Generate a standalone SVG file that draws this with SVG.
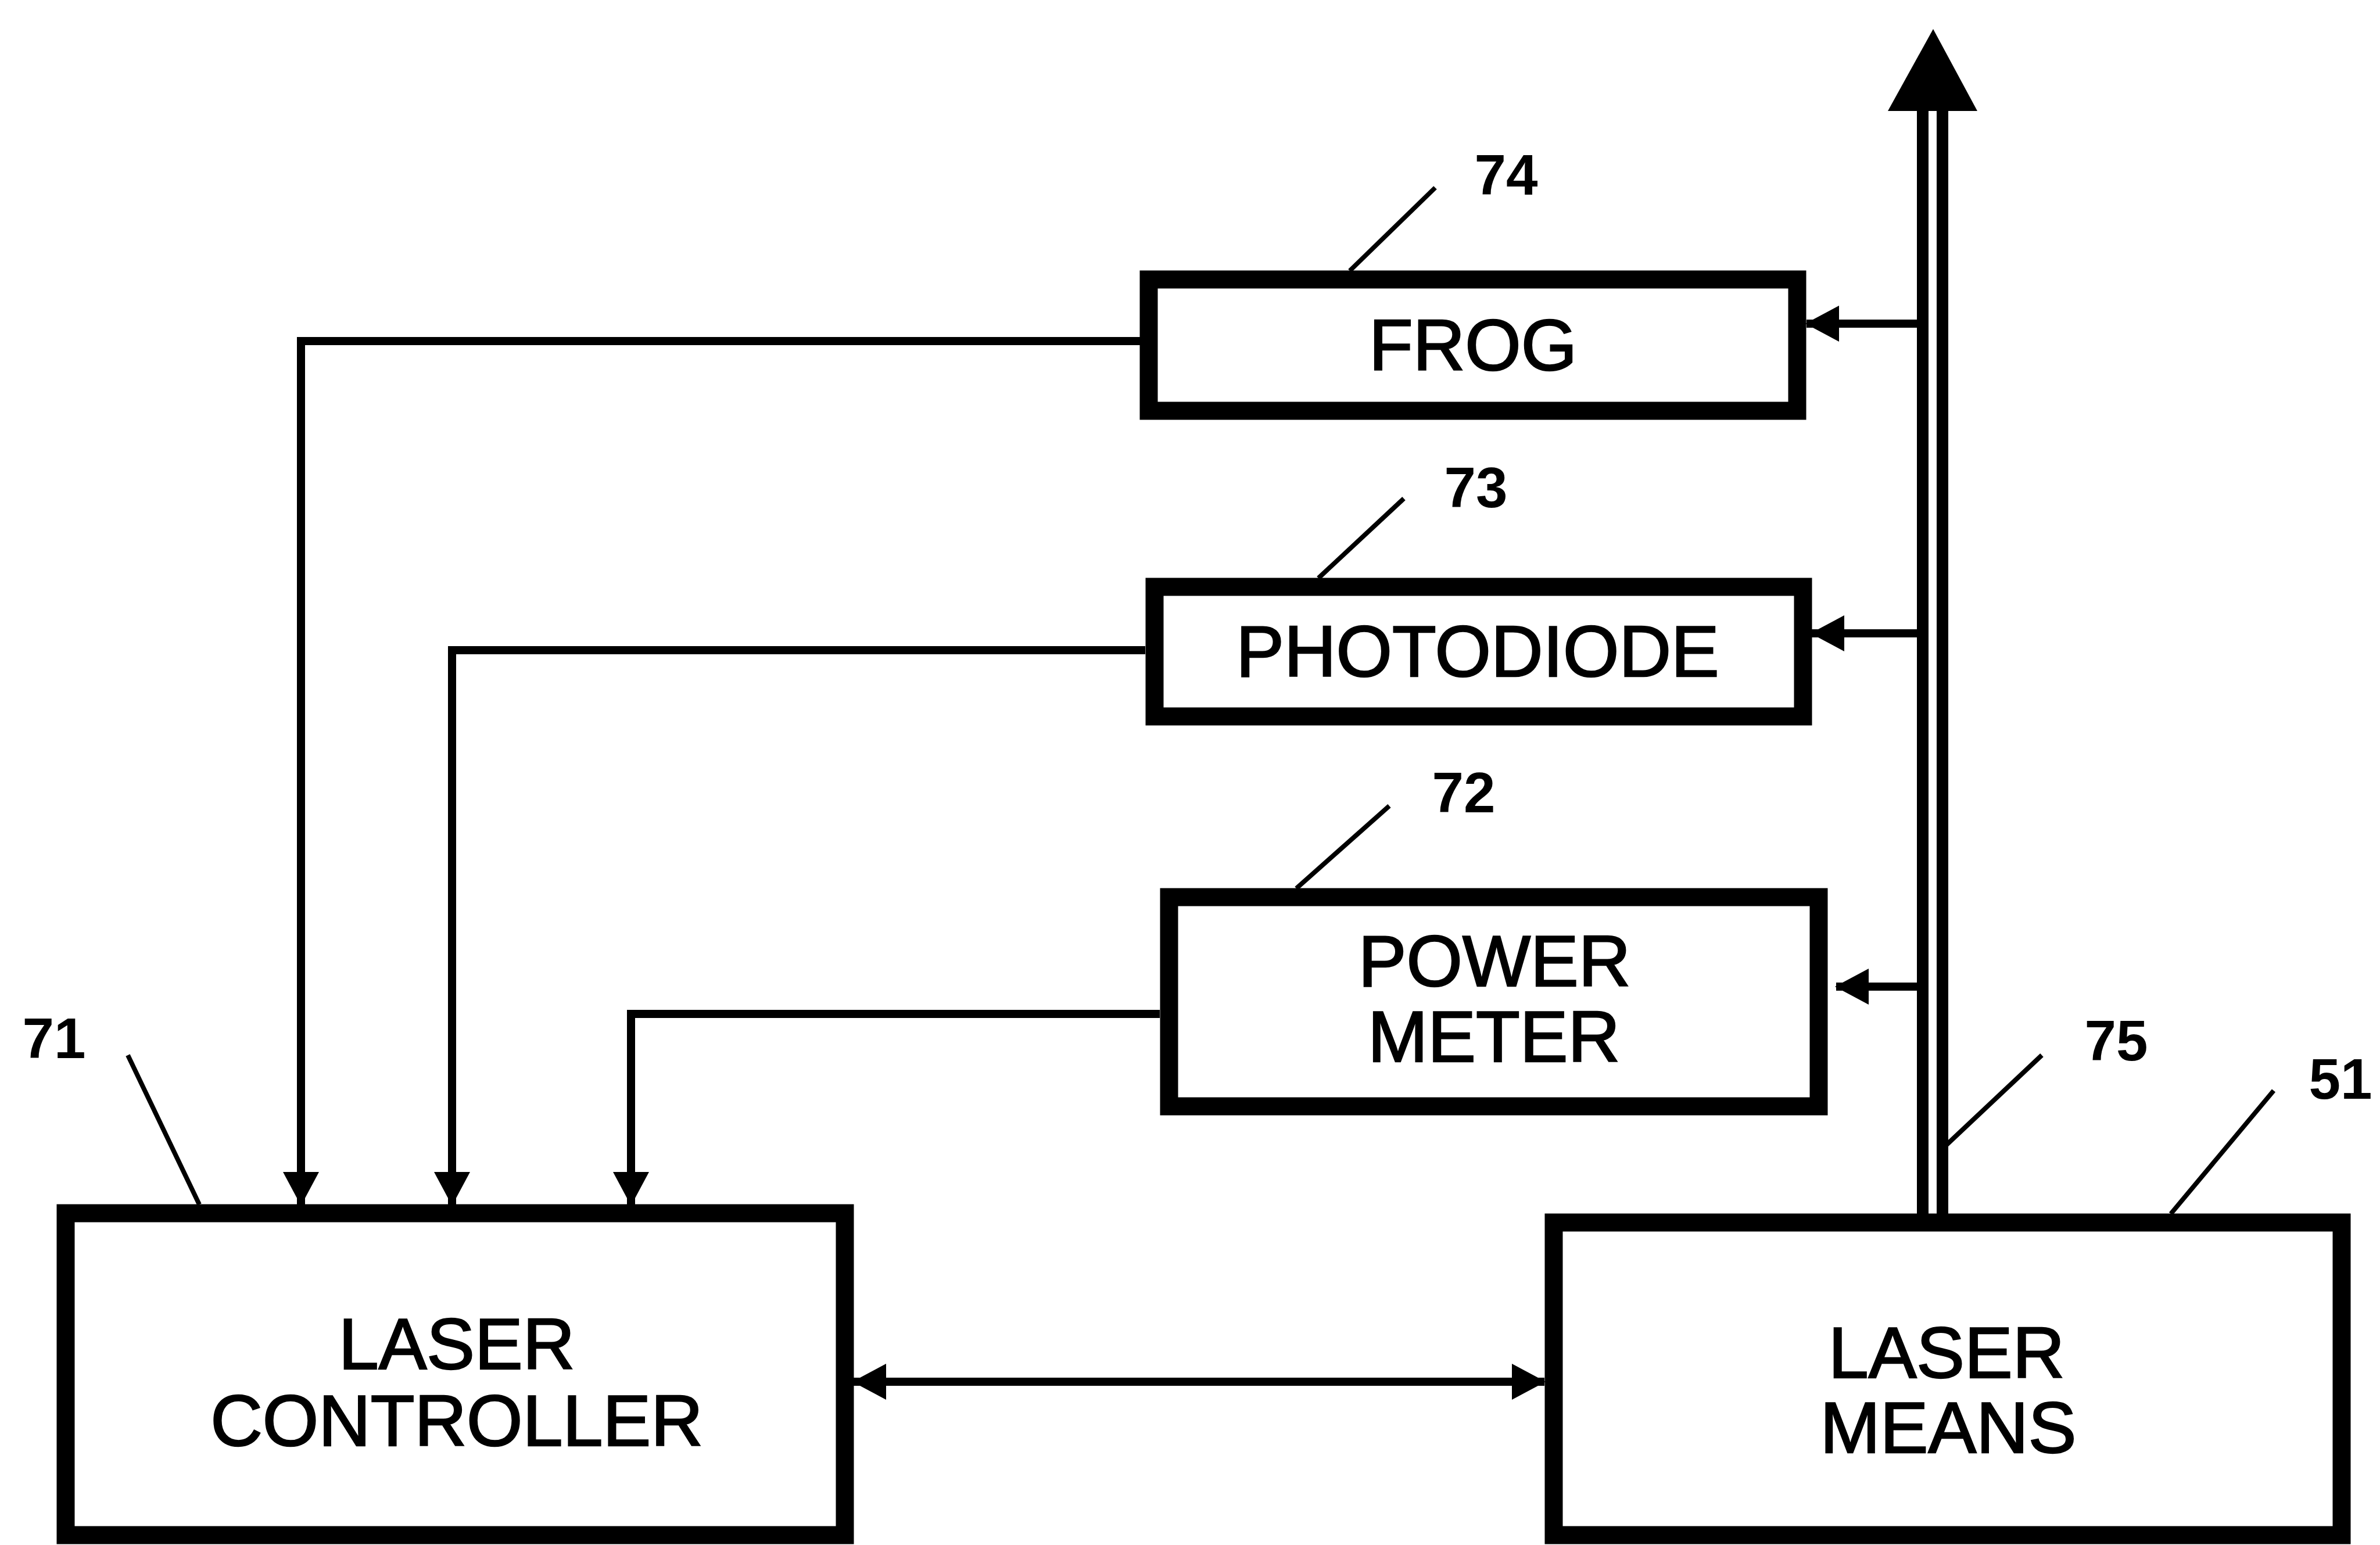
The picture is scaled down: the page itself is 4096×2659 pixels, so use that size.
<svg xmlns="http://www.w3.org/2000/svg" width="4096" height="2659" viewBox="0 0 4096 2659">
<style>
.box{fill:#fff;stroke:#000;stroke-width:31}
.t{font-family:"Liberation Sans",Arial,sans-serif;font-size:124px;text-anchor:middle;fill:#000;stroke:#000;stroke-width:2.5}
.n{font-family:"Liberation Sans",Arial,sans-serif;font-size:98px;font-weight:bold;text-anchor:middle;fill:#000}
.c{fill:none;stroke:#000;stroke-width:14}
.ld{fill:none;stroke:#000;stroke-width:8}
.beam{fill:none;stroke:#000;stroke-width:20}
</style>
<defs>
<marker id="ah" markerUnits="userSpaceOnUse" markerWidth="58" markerHeight="62" refX="56" refY="31" orient="auto-start-reverse" viewBox="0 0 58 62">
<path d="M0,0 L58,31 L0,62 Z" fill="#000"/>
</marker>
</defs>
<rect width="4096" height="2659" fill="#fff"/>
<g id="connectors">
<path class="c" d="M1962,587 H518 V2073" marker-end="url(#ah)"/>
<path class="c" d="M1971,1119 H778 V2073" marker-end="url(#ah)"/>
<path class="c" d="M1996,1745 H1086 V2073" marker-end="url(#ah)"/>
<path class="c" d="M1469,2378 H2658" marker-start="url(#ah)" marker-end="url(#ah)"/>
<path class="c" d="M3299,557 H3109" marker-end="url(#ah)"/>
<path class="c" d="M3299,1090 H3118" marker-end="url(#ah)"/>
<path class="c" d="M3299,1698 H3160" marker-end="url(#ah)"/>
<g id="beam">
<line class="beam" x1="3309" y1="185" x2="3309" y2="2092"/>
<line class="beam" x1="3343" y1="185" x2="3343" y2="2092"/>
<path d="M3327,50 L3403,191 L3249,191 Z" fill="#000"/>
</g>
<g id="leaders">
<line class="ld" x1="2470" y1="323" x2="2323" y2="466"/>
<line class="ld" x1="2416" y1="858" x2="2269" y2="995"/>
<line class="ld" x1="2391" y1="1387" x2="2231" y2="1529"/>
<line class="ld" x1="220" y1="1816" x2="343" y2="2073"/>
<line class="ld" x1="3514" y1="1816" x2="3345" y2="1975"/>
<line class="ld" x1="3913" y1="1877" x2="3736" y2="2089"/>
</g>
</g>
<g id="frog">
<rect class="box" x="1977" y="481" width="1116" height="226"/>
<text class="t" x="2535" y="637">FROG</text>
<text class="n" x="2592" y="335">74</text>
</g>
<g id="photodiode">
<rect class="box" x="1987" y="1010" width="1116" height="223"/>
<text class="t" x="2543" y="1164">PHOTODIODE</text>
<text class="n" x="2540" y="873">73</text>
</g>
<g id="power-meter">
<rect class="box" x="2012" y="1544" width="1118" height="360"/>
<text class="t" x="2572" y="1697">POWER</text>
<text class="t" x="2571" y="1827">METER</text>
<text class="n" x="2519" y="1398">72</text>
</g>
<g id="laser-controller">
<rect class="box" x="113" y="2088" width="1341" height="554"/>
<text class="t" x="786" y="2356">LASER</text>
<text class="t" x="786" y="2488">CONTROLLER</text>
<text class="n" x="93" y="1821">71</text>
</g>
<g id="laser-means">
<rect class="box" x="2674" y="2104" width="1356" height="538"/>
<text class="t" x="3350" y="2371">LASER</text>
<text class="t" x="3353" y="2500">MEANS</text>
<text class="n" x="3642" y="1825">75</text>
<text class="n" x="4028" y="1891">51</text>
</g>
</svg>
